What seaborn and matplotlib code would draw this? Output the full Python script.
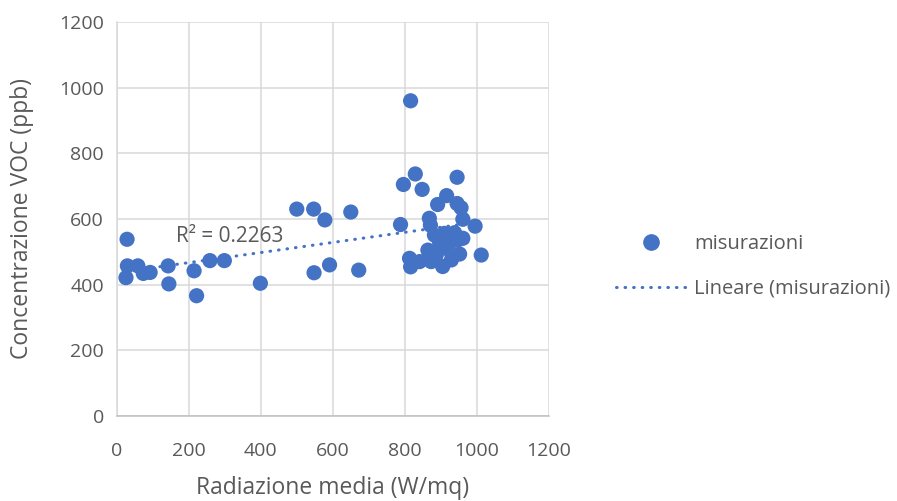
import numpy as np
import pandas as pd
import matplotlib
matplotlib.use("Agg")
import matplotlib.pyplot as plt
from matplotlib.lines import Line2D
import seaborn as sns

# Measurements: mean radiation (W/mq) vs VOC concentration (ppb)
radiazione = [29, 30, 26, 59, 74, 93, 143, 145, 215, 222, 259, 299, 399, 500, 547,
              548, 578, 591, 650, 672, 788, 796, 816, 829, 848, 945, 916, 891, 945,
              956, 961, 868, 871, 995, 882, 910, 938, 961, 896, 924, 947, 864, 915,
              952, 1012, 813, 816, 841, 873, 905, 929, 887]
concentrazione = [538, 457, 421, 457, 434, 437, 457, 402, 442, 366, 473, 473, 404, 630,
                  630, 436, 597, 460, 621, 444, 583, 705, 960, 737, 690, 727, 671, 644,
                  647, 634, 599, 602, 581, 578, 551, 556, 558, 541, 531, 526, 536, 505,
                  510, 493, 490, 480, 454, 470, 470, 455, 475, 490]
r2_label = "R² = 0.2263"
x_ticks = [0, 200, 400, 600, 800, 1000, 1200]
y_ticks = [0, 200, 400, 600, 800, 1000, 1200]

df = pd.DataFrame({"x": radiazione, "y": concentrazione})

sns.set_theme(style="white")
plt.rcParams["font.family"] = ["Open Sans", "DejaVu Sans"]

blue = "#4472C4"
grid = "#D9D9D9"
txt = "#595959"
dotted = (0, (0.2, 2.6))

fig = plt.figure(figsize=(8.97, 5.01), dpi=100)
ax = fig.add_axes([0.13, 0.170, 0.482, 0.786])

# linear trendline over the data range
sns.regplot(data=df, x="x", y="y", scatter=False, ci=None, truncate=True, ax=ax,
            line_kws=dict(color=blue, lw=2.2, linestyle=dotted,
                          dash_capstyle="round", zorder=2))
sns.scatterplot(data=df, x="x", y="y", ax=ax, color=blue, s=120,
                edgecolor="none", linewidth=0, zorder=3)

ax.set_xlim(0, 1200)
ax.set_ylim(0, 1200)
ax.set_xticks(x_ticks)
ax.set_yticks(y_ticks)
ax.grid(True, color=grid, lw=1.1)
ax.set_axisbelow(True)
for side in ["top", "right"]:
    ax.spines[side].set_visible(False)
ax.spines["left"].set_color(grid)
ax.spines["bottom"].set_color("#BFBFBF")
ax.spines["left"].set_linewidth(1.1)
ax.spines["bottom"].set_linewidth(1.1)
ax.tick_params(axis="both", length=0, labelsize=14, labelcolor=txt)
ax.tick_params(axis="x", pad=19)
ax.tick_params(axis="y", pad=9)

ax.set_xlabel("Radiazione media (W/mq)", fontsize=16.5, color=txt)
ax.set_ylabel("Concentrazione VOC (ppb)", fontsize=16.5, color=txt)
ax.xaxis.set_label_coords(0.5, -0.152)
ax.yaxis.set_label_coords(-0.191, 0.5)

ax.text(313, 545, r2_label, fontsize=15, color=txt, ha="center", va="center")

handles = [
    Line2D([], [], marker="o", color=blue, linestyle="none", markersize=11),
    Line2D([], [], color=blue, lw=2.2, linestyle=dotted, dash_capstyle="round"),
]
fig.legend(handles, ["misurazioni", "Lineare (misurazioni)"],
           loc="center left", bbox_to_anchor=(0.675, 0.468), frameon=False,
           fontsize=14.5, labelcolor=txt, handlelength=3.5, handletextpad=0.4,
           labelspacing=1.2, borderpad=0)

fig.savefig("out.png", dpi=100)
